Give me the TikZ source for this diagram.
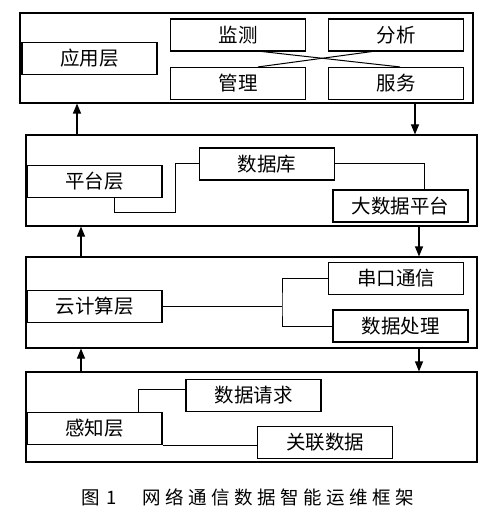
\documentclass[tikz,border=0pt]{standalone}
\usepackage{fontspec}
\setmainfont{Noto Sans CJK SC}
\usetikzlibrary{arrows.meta}
\tikzset{
  layer/.style={draw, line width=1.1pt, inner sep=0pt},
  item/.style={draw, line width=1.1pt, inner sep=0pt, minimum width=135pt, minimum height=32pt,
    font=\fontsize{19.5}{21}\selectfont},
  link/.style={line width=1pt},
  arr/.style={line width=1.1pt, -{Triangle[length=10pt,width=8pt]}}
}
\begin{document}
\begin{tikzpicture}[x=1pt,y=-1pt]
\useasboundingbox (0,0) rectangle (500,510);
% layers
\node[layer, minimum width=453pt, minimum height=90pt] (L1) at (246.5,58) {};
\node[layer, minimum width=451pt, minimum height=91pt] (L2) at (251.5,180.5) {};
\node[layer, minimum width=451pt, minimum height=91pt] (L3) at (251.5,302.5) {};
\node[layer, minimum width=451pt, minimum height=90pt] (L4) at (251.5,417) {};
% layer 1
\node[item] (app) at (89.5,58.5) {应用层};
\node[item] (mon) at (238,35) {监测};
\node[item] (ana) at (396,35) {分析};
\node[item] (man) at (238,83.5) {管理};
\node[item] (ser) at (396,83.5) {服务};
\draw[link] ([xshift=24pt]mon.south) -- ([xshift=4pt]ser.north);
\draw[link] ([xshift=-24pt]ana.south) -- ([xshift=20pt]man.north);
% layer 2
\node[item] (plat) at (94.5,181.5) {平台层};
\node[item] (db) at (267,164) {数据库};
\node[item] (big) at (400.5,206) {大数据平台};
\coordinate (c1) at (175,213);
\draw[link] ([xshift=19.5pt]plat.south) |- (c1) |- (db.west);
\draw[link] (db.east) -| ([xshift=23.5pt]big.north);
% layer 3
\node[item] (cloud) at (94.5,306.5) {云计算层};
\node[item] (com) at (396,278.5) {串口通信};
\node[item] (proc) at (400.5,326) {数据处理};
\coordinate (j) at (282,306.5);
\draw[link] (cloud.east) -- (j);
\draw[link] (com.west) -| (j) |- (proc.west);
% layer 4
\node[item] (sense) at (94.5,428.5) {感知层};
\node[item] (req) at (253.5,395.5) {数据请求};
\node[item] (rel) at (325,442.5) {关联数据};
\draw[link] ([xshift=43.5pt]sense.north) |- ([yshift=6.5pt]req.west);
\draw[link] (sense.south east) -- (sense.south east -| rel.west);
% arrows
\coordinate (u1) at (77,0);
\coordinate (d1) at (415,0);
\coordinate (u2) at (81,0);
\coordinate (d2) at (419,0);
\draw[arr] (u1 |- L2.north) -- (u1 |- L1.south);
\draw[arr] (d1 |- L1.south) -- (d1 |- L2.north);
\draw[arr] (u2 |- L3.north) -- (u2 |- L2.south);
\draw[arr] (d2 |- L2.south) -- (d2 |- L3.north);
\draw[arr] (u2 |- L4.north) -- (u2 |- L3.south);
\draw[arr] (d2 |- L3.south) -- (d2 |- L4.north);
% caption
\node[font=\fontsize{18.5}{20}\selectfont, inner sep=0pt] (cap) at (248,497)
  {图\kern6pt 1\kern26pt 网\kern4.5pt 络\kern4.5pt 通\kern4.5pt 信\kern4.5pt 数\kern4.5pt 据\kern4.5pt 智\kern4.5pt 能\kern4.5pt 运\kern4.5pt 维\kern4.5pt 框\kern4.5pt 架};
\end{tikzpicture}
\end{document}
